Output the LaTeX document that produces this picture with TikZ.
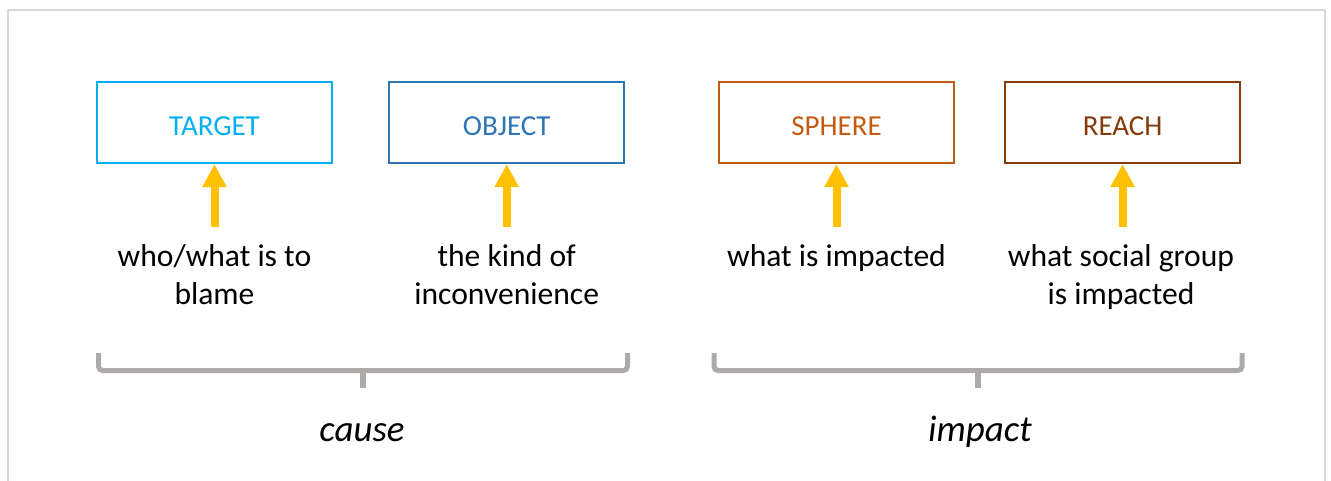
\documentclass[tikz,border=0pt]{standalone}
\usepackage{fontspec}
\setmainfont{Carlito}
\usetikzlibrary{arrows.meta}
\definecolor{cTarget}{HTML}{00B0F0}
\definecolor{cObject}{HTML}{2E75B6}
\definecolor{cSphere}{HTML}{C55A11}
\definecolor{cReach}{HTML}{843C0C}
\definecolor{cArrow}{HTML}{FFC000}
\definecolor{cBrace}{HTML}{AEAAAA}
\definecolor{cFrame}{HTML}{D9D9D9}
\begin{document}
\begin{tikzpicture}[x=1pt,y=-1pt,
  box/.style={draw,line width=2.3pt,minimum width=235pt,minimum height=81pt,inner sep=0pt,
    text height=27pt,text depth=0pt,font=\fontsize{29}{34}\selectfont},
  desc/.style={anchor=base,align=center,inner sep=0pt,font=\fontsize{31.6}{38}\selectfont},
  group/.style={anchor=base,inner sep=0pt,font=\fontsize{37}{44}\selectfont\itshape},
  uparrow/.style={cArrow,line width=8pt,-{Triangle[width=23pt,length=23pt]}},
  bracket/.style={cBrace,line width=5pt,rounded corners=4pt},
  frame/.style={cFrame,line width=2pt}]
\useasboundingbox (0,0) rectangle (1331,481);
\draw[frame] (7.5,481) -- (7.5,10.3) -- (1325,10.3) -- (1325,481);

\node[box,draw=cTarget,text=cTarget] (target) at (214.5,122.5) {TARGET};
\node[box,draw=cObject,text=cObject] (object) at (506.7,122.5) {OBJECT};
\node[box,draw=cSphere,text=cSphere] (sphere) at (836.5,122.5) {SPHERE};
\node[box,draw=cReach,text=cReach] (reach) at (1122.6,122.5) {REACH};

\coordinate (a1) at (214.5,227);
\coordinate (a2) at (506.7,227);
\coordinate (a3) at (836.5,227);
\coordinate (a4) at (1122.6,227);
\draw[uparrow] (a1) -- (target.south);
\draw[uparrow] (a2) -- (object.south);
\draw[uparrow] (a3) -- (sphere.south);
\draw[uparrow] (a4) -- (reach.south);

\node[desc] (d1) at (214.5,304) {who/what is to\\blame};
\node[desc] (d2) at (506.7,304) {the kind of\\inconvenience};
\node[desc] (d3) at (836.5,266) {what is impacted};
\node[desc] (d4) at (1121,304) {what social group\\is impacted};

\draw[bracket] (98.5,353) -- (98.5,370.5) -- (627.5,370.5) -- (627.5,353);
\draw[cBrace,line width=6pt] (363,370) -- (363,388);
\draw[bracket] (714,353) -- (714,370.5) -- (1242,370.5) -- (1242,353);
\draw[cBrace,line width=6pt] (978,370) -- (978,388);

\node[group] (cause) at (362,441) {cause};
\node[group] (impact) at (980,441) {impact};
\end{tikzpicture}
\end{document}
